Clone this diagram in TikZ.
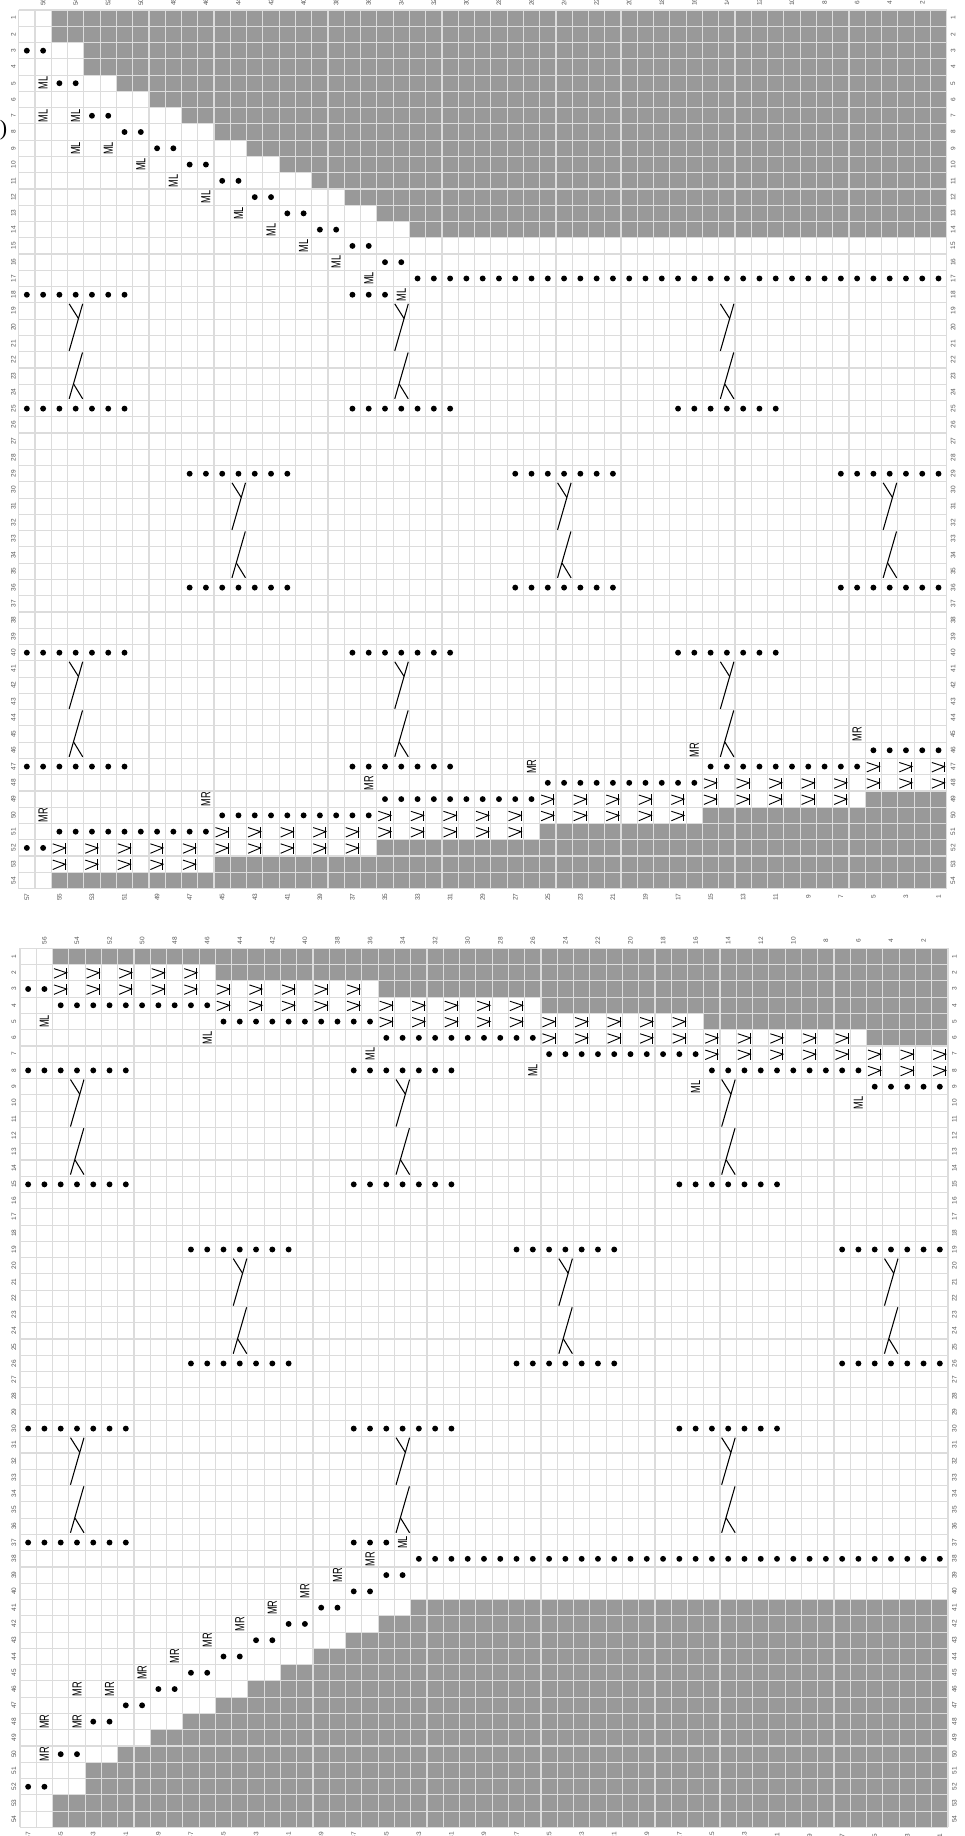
\documentclass[tikz,border=0pt]{standalone}
\usepackage{graphicx}
\usepackage{fontspec}
\setmainfont{Liberation Sans}
\newfontfamily\serifparen{Liberation Serif}
\definecolor{cellgrey}{HTML}{999999}
\definecolor{gridc}{HTML}{DCDCDC}
\definecolor{numc}{HTML}{555555}
\tikzset{
  gridline/.style={draw=gridc,line width=1.15pt},
  num/.style={font=\fontsize{6.5}{7}\selectfont,text=numc,rotate=90,inner sep=0pt},
  shapl/.style={font=\fontsize{13.2}{14}\selectfont,text=black,rotate=90,inner sep=0pt},
  stitch/.style={draw=black,line width=.9pt},
  cableline/.style={draw=black,line width=1.05pt},
  chartbase/.style={x=16.28pt,y=-16.27pt}
}
\newcommand\GreyFrom[2]{\fill[cellgrey] (#2-1,#1-1) rectangle (57,#1);}
\newcommand\Bul[2]{\foreach \c in {#2} \fill[black] (\c-.5,#1-.5) circle (2.95pt);}
\newcommand\Seven[2]{\foreach \s in {#2} \foreach \k in {0,...,6} \fill[black] (\s+\k-.5,#1-.5) circle (2.95pt);}
\newcommand\Sym[2]{\foreach \c in {#2} {%
  \draw[stitch] (\c-1+.09,#1-1+.25) -- (\c-1+.86,#1-1+.5) -- (\c-1+.09,#1-1+.83);
  \draw[stitch] (\c-1+.86,#1-1+.21) -- (\c-1+.86,#1-1+.86);}}
\newcommand\Cab[2]{\foreach \c in {#2} {%
  \draw[cableline] (\c-1+.93,#1-1+.06) -- (\c-1+.1,#1-1+2.95);
  \draw[cableline] (\c-1+.1,#1-1+.06) -- (\c-1+.67,#1-1+.96);
  \draw[cableline] (\c-1+.92,#1-1+3.05) -- (\c-1+.1,#1-1+5.9);
  \draw[cableline] (\c-1+.38,#1-1+5) -- (\c-1+.93,#1-1+5.9);}}
\newcommand\Lab[3]{\foreach \c in {#2} \node[shapl] (s#1-\c) at (\c-.5,#1-.5) {\scalebox{.7}[1]{#3}};}
\newcommand\Frame{%
  \foreach \i in {0,...,57} \draw[gridline] (\i,0) -- (\i,54);
  \foreach \j in {0,...,54} \draw[gridline] (0,\j) -- (57,\j);}
\newcommand\Nums[4]{% left x, right x, top y, bottom y
  \foreach \r in {1,...,54} {%
    \node[num] (L\r) at (#1,\r-.5) {\r};
    \node[num] (R\r) at (#2,\r-.5) {\r};}
  \foreach \c in {2,4,...,56} {%
    \pgfmathtruncatemacro\n{58-\c}
    \node[num] (T\n) at (\c-.5,#3) {\n};}
  \foreach \c in {1,3,...,57} {%
    \pgfmathtruncatemacro\n{58-\c}
    \node[num] (B\n) at (\c-.5,#4) {\n};}}
\begin{document}
\begin{tikzpicture}[x=1pt,y=-1pt]
\useasboundingbox (0,0) rectangle (965,1836);
\fill[white] (0,0) rectangle (965,1836);
\node[font=\serifparen\fontsize{22}{24}\selectfont,inner sep=0pt] (paren) at (3.5,130.5) {)};
% ---------- first chart
\begin{scope}[shift={(18.7,10)},chartbase,name prefix=a-]
  \GreyFrom{1}{3}\GreyFrom{2}{3}\GreyFrom{3}{5}\GreyFrom{4}{5}\GreyFrom{5}{7}\GreyFrom{6}{9}
  \GreyFrom{7}{11}\GreyFrom{8}{13}\GreyFrom{9}{15}\GreyFrom{10}{17}\GreyFrom{11}{19}\GreyFrom{12}{21}
  \GreyFrom{13}{23}\GreyFrom{14}{25}
  \GreyFrom{49}{53}\GreyFrom{50}{43}\GreyFrom{51}{33}\GreyFrom{52}{23}\GreyFrom{53}{13}\GreyFrom{54}{3}
  \Frame
  \Nums{-.33}{57.39}{-.47}{54.52}
  \Bul{3}{1,2}\Bul{5}{3,4}\Bul{7}{5,6}\Bul{8}{7,8}\Bul{9}{9,10}\Bul{10}{11,12}\Bul{11}{13,14}
  \Bul{12}{15,16}\Bul{13}{17,18}\Bul{14}{19,20}\Bul{15}{21,22}\Bul{16}{23,24}
  \Bul{17}{25,...,57}
  \Seven{18}{1}\Bul{18}{21,22,23}
  \Seven{25}{1,21,41}
  \Seven{29}{11,31,51}
  \Seven{36}{11,31,51}
  \Seven{40}{1,21,41}
  \Bul{46}{53,...,57}
  \Seven{47}{1,21}\Bul{47}{43,...,52}
  \Bul{48}{33,...,42}
  \Bul{49}{23,...,32}
  \Bul{50}{13,...,22}
  \Bul{51}{3,...,12}
  \Bul{52}{1,2}
  \Lab{5}{2}{ML}\Lab{7}{2,4}{ML}\Lab{9}{4,6}{ML}\Lab{10}{8}{ML}\Lab{11}{10}{ML}\Lab{12}{12}{ML}
  \Lab{13}{14}{ML}\Lab{14}{16}{ML}\Lab{15}{18}{ML}\Lab{16}{20}{ML}\Lab{17}{22}{ML}\Lab{18}{24}{ML}
  \Lab{45}{52}{MR}\Lab{46}{42}{MR}\Lab{47}{32}{MR}\Lab{48}{22}{MR}\Lab{49}{12}{MR}\Lab{50}{2}{MR}
  \Cab{19}{4,24,44}\Cab{30}{14,34,54}\Cab{41}{4,24,44}
  \Sym{47}{53,55,57}
  \Sym{48}{43,45,...,57}
  \Sym{49}{33,35,...,51}
  \Sym{50}{23,25,...,41}
  \Sym{51}{13,15,...,31}
  \Sym{52}{3,5,...,21}
  \Sym{53}{3,5,...,11}
\end{scope}
% ---------- second chart
\begin{scope}[shift={(20,948.3)},chartbase,y=-16.28pt,name prefix=b-]
  \GreyFrom{1}{3}\GreyFrom{2}{13}\GreyFrom{3}{23}\GreyFrom{4}{33}\GreyFrom{5}{43}\GreyFrom{6}{53}
  \GreyFrom{41}{25}\GreyFrom{42}{23}\GreyFrom{43}{21}\GreyFrom{44}{19}\GreyFrom{45}{17}\GreyFrom{46}{15}
  \GreyFrom{47}{13}\GreyFrom{48}{11}\GreyFrom{49}{9}\GreyFrom{50}{7}\GreyFrom{51}{5}\GreyFrom{52}{5}
  \GreyFrom{53}{3}\GreyFrom{54}{3}
  \Frame
  \Nums{-.37}{57.39}{-.46}{54.52}
  \Bul{3}{1,2}
  \Bul{4}{3,...,12}
  \Bul{5}{13,...,22}
  \Bul{6}{23,...,32}
  \Bul{7}{33,...,42}
  \Seven{8}{1,21}\Bul{8}{43,...,52}
  \Bul{9}{53,...,57}
  \Seven{15}{1,21,41}
  \Seven{19}{11,31,51}
  \Seven{26}{11,31,51}
  \Seven{30}{1,21,41}
  \Seven{37}{1}\Bul{37}{21,22,23}
  \Bul{38}{25,...,57}
  \Bul{39}{23,24}\Bul{40}{21,22}\Bul{41}{19,20}\Bul{42}{17,18}\Bul{43}{15,16}\Bul{44}{13,14}
  \Bul{45}{11,12}\Bul{46}{9,10}\Bul{47}{7,8}\Bul{48}{5,6}\Bul{50}{3,4}\Bul{52}{1,2}
  \Lab{5}{2}{ML}\Lab{6}{12}{ML}\Lab{7}{22}{ML}\Lab{8}{32}{ML}\Lab{9}{42}{ML}\Lab{10}{52}{ML}
  \Lab{37}{24}{ML}
  \Lab{38}{22}{MR}\Lab{39}{20}{MR}\Lab{40}{18}{MR}\Lab{41}{16}{MR}\Lab{42}{14}{MR}\Lab{43}{12}{MR}
  \Lab{44}{10}{MR}\Lab{45}{8}{MR}\Lab{46}{4,6}{MR}\Lab{48}{2,4}{MR}\Lab{50}{2}{MR}
  \Cab{9}{4,24,44}\Cab{20}{14,34,54}\Cab{31}{4,24,44}
  \Sym{2}{3,5,...,11}
  \Sym{3}{3,5,...,21}
  \Sym{4}{13,15,...,31}
  \Sym{5}{23,25,...,41}
  \Sym{6}{33,35,...,51}
  \Sym{7}{43,45,...,57}
  \Sym{8}{53,55,57}
\end{scope}
\end{tikzpicture}
\end{document}
